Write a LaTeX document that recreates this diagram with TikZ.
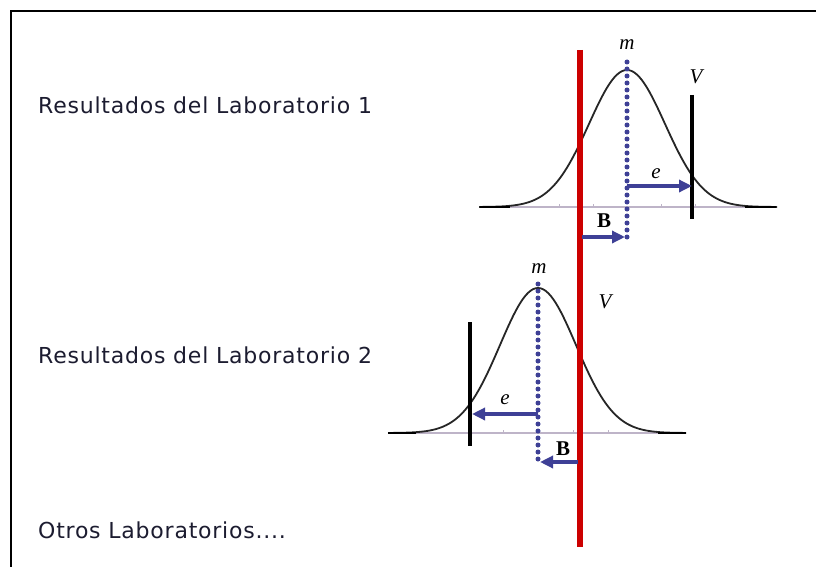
\documentclass[tikz,border=0pt]{standalone}
\usepackage{fontspec}
\setmainfont{DejaVu Sans}
\newfontfamily\mathlbl{Liberation Serif}
\usetikzlibrary{arrows.meta}
\definecolor{labred}{RGB}{204,0,0}
\definecolor{arrblue}{RGB}{62,64,150}
\definecolor{baselil}{RGB}{190,180,200}
\definecolor{txtdark}{RGB}{28,28,48}
\begin{document}
\begin{tikzpicture}[x=1pt,y=-1pt,
  lbltext/.style={anchor=west,inner sep=0pt,text=txtdark,font=\fontsize{22}{26}\selectfont\addfontfeature{LetterSpace=3.5}},
  mlbl/.style={inner sep=0pt,font=\mathlbl\itshape\fontsize{21}{24}\selectfont,text=black},
  blbl/.style={inner sep=0pt,font=\mathlbl\bfseries\fontsize{21}{24}\selectfont,text=black},
  redline/.style={draw=labred,line width=6pt},
  vline/.style={draw=black,line width=3.5pt},
  meanline/.style={draw=arrblue,line width=5pt,line cap=round,dash pattern=on 0pt off 7pt},
  errarrow/.style={draw=arrblue,line width=3.5pt,-{Triangle[length=13pt,width=12pt]}},
  baseln/.style={draw=baselil,line width=2pt},
  curve/.style={draw=black!85,line width=1.8pt},
]
\useasboundingbox (0,0) rectangle (816,567);
\fill[white] (0,0) rectangle (816,567);
% frame
\draw[line width=2.4pt,black] (11,580) -- (11,11) -- (830,11);

% texts
\node[lbltext] (t1) at (38,105) {Resultados del Laboratorio 1};
\node[lbltext] (t2) at (38,355) {Resultados del Laboratorio 2};
\node[lbltext] (t3) at (38,530) {Otros Laboratorios....};

% ---------- Lab 1 ----------
\draw[baseln] (480,207) -- (776,207);
\foreach \k in {-2,-1,1,2} {\draw[draw=baselil,line width=1pt] ({627+\k*34},207) -- ({627+\k*34},204);}
\draw[curve] plot[domain=-148:150,samples=120] ({627+\x},{207-137*exp(-0.5*(\x/38)*(\x/38))});
\draw[black,line width=2pt] (480,207) -- (510,207);
\draw[black,line width=2pt] (745,207) -- (776,207);

% ---------- Lab 2 ----------
\draw[baseln] (388,433) -- (686,433);
\foreach \k in {-2,-1,1,2} {\draw[draw=baselil,line width=1pt] ({538+\k*35},433) -- ({538+\k*35},430);}
\draw[curve] plot[domain=-150:148,samples=120] ({538+\x},{433-145*exp(-0.5*(\x/38)*(\x/38))});
\draw[black,line width=2.4pt] (388,433) -- (416,433);
\draw[black,line width=2.4pt] (658,433) -- (686,433);

% reference (red) line
\coordinate (rtop) at (580,50);
\coordinate (rbot) at (580,547);
\draw[redline] (rtop) -- (rbot);

% Lab 1 elements
\coordinate (m1top) at (627,62);
\coordinate (m1bot) at (627,239);
\draw[meanline] (m1top) -- (m1bot);
\node[mlbl] (m1) at (627,45) {m};
\coordinate (v1top) at (692,95);
\coordinate (v1bot) at (692,219);
\draw[vline] (v1top) -- (v1bot);
\node[mlbl] (V1) at (696,77) {V};
\coordinate (e1s) at (627,186);
\coordinate (e1e) at (692,186);
\draw[errarrow] (e1s) -- (e1e);
\node[mlbl] (e1) at (656,174) {e};
\coordinate (b1s) at (582,237);
\coordinate (b1e) at (625,237);
\draw[errarrow] (b1s) -- (b1e);
\node[blbl] (B1) at (604,221) {B};

% Lab 2 elements
\coordinate (m2top) at (538,284);
\coordinate (m2bot) at (538,465);
\draw[meanline] (m2top) -- (m2bot);
\node[mlbl] (m2) at (539,269) {m};
\coordinate (v2top) at (470,322);
\coordinate (v2bot) at (470,446);
\draw[vline] (v2top) -- (v2bot);
\node[mlbl] (V2) at (605,302) {V};
\coordinate (e2s) at (538,414);
\coordinate (e2e) at (472,414);
\draw[errarrow] (e2s) -- (e2e);
\node[mlbl] (e2) at (505,400) {e};
\coordinate (b2s) at (578,462);
\coordinate (b2e) at (540,462);
\draw[errarrow] (b2s) -- (b2e);
\node[blbl] (B2) at (563,449) {B};
\end{tikzpicture}
\end{document}
